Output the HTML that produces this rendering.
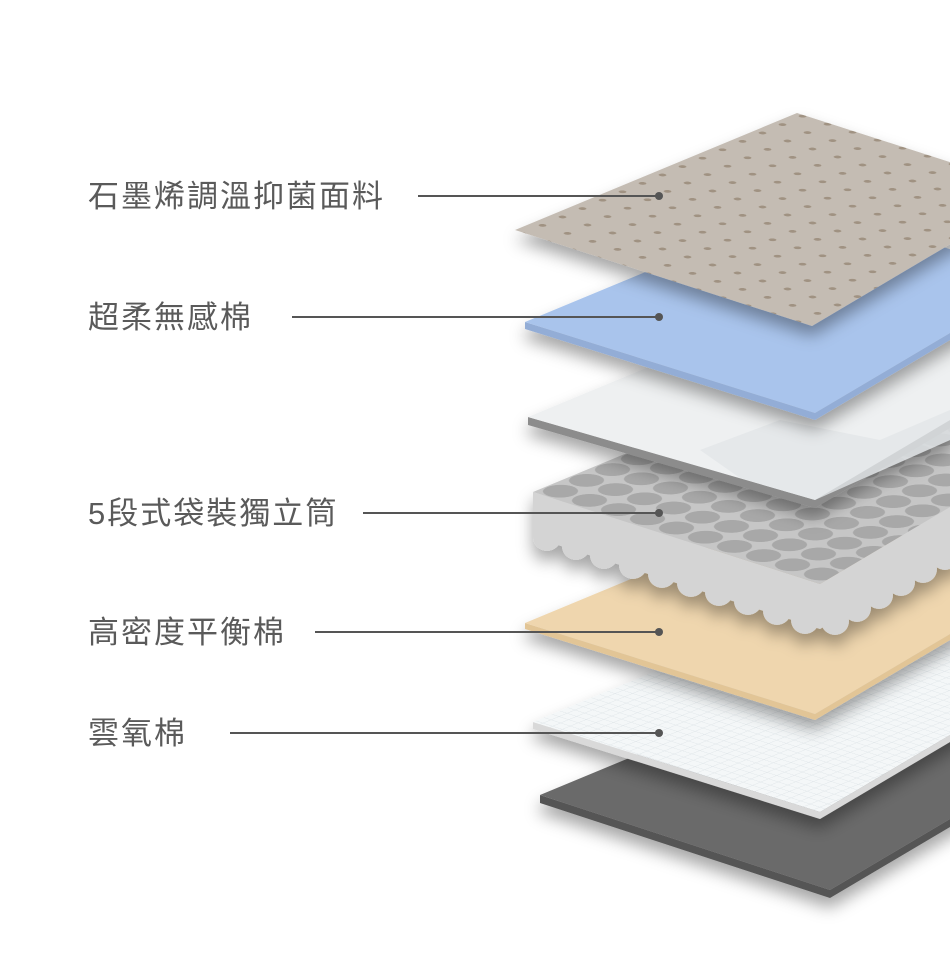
<!DOCTYPE html>
<html><head><meta charset="utf-8"><style>
html,body{margin:0;padding:0;background:#fff;}
svg{display:block;}
text{font-family:"Liberation Sans","Noto Sans CJK TC",sans-serif;font-size:31px;fill:#5a5a5a;letter-spacing:2px;}
</style></head><body>
<svg width="950" height="958" viewBox="0 0 950 958" xmlns="http://www.w3.org/2000/svg">
<defs>
<filter id="sh" x="-20%" y="-20%" width="140%" height="160%"><feDropShadow dx="0" dy="10" stdDeviation="8" flood-color="#000" flood-opacity="0.35"/></filter>
<pattern id="dots" patternUnits="userSpaceOnUse" width="20" height="20" patternTransform="matrix(1.25,0.4,1.0,-0.42,0,0)">
<rect width="20" height="20" fill="#c4bcb3"/><circle cx="10" cy="10" r="2.4" fill="#a09282"/></pattern>
<pattern id="coils" patternUnits="userSpaceOnUse" width="20" height="20" patternTransform="matrix(1.45,0.46,1.3,-0.54,533,492)">
<rect width="20" height="20" fill="#c6c6c6"/><circle cx="10" cy="10" r="9" fill="#a8a8a8"/></pattern>
<pattern id="grid" patternUnits="userSpaceOnUse" width="8" height="8" patternTransform="matrix(1.2,0.39,1.0,-0.41,0,0)">
<rect width="8" height="8" fill="#f4f7f8"/><path d="M0 0H8M0 0V8" stroke="#dfe5e8" stroke-width="1"/></pattern>
</defs>

<g filter="url(#sh)">
<polygon points="540,795 540,803 830,898 1058,763 1058,755 830,890" fill="#555"/>
<polygon points="540,795 822,678 1058,755 830,890" fill="#6b6a6a"/>
</g>
<g filter="url(#sh)">
<polygon points="533,722 533,729 820,819 1048,684 1048,677 820,812" fill="#d9d9d9"/>
<polygon points="533,722 815,605 1048,677 820,812" fill="url(#grid)"/>
</g>
<g filter="url(#sh)">
<polygon points="525,623 525,629 815,720 1043,585 1043,579 815,714" fill="#e2c596"/>
<polygon points="525,623 807,506 1043,579 815,714" fill="#efd6ae"/>
</g>
<g filter="url(#sh)">
<polygon points="533,492 533,537 820,629 1048,494 1048,449 820,584" fill="#d4d4d4"/>
<g fill="#d4d4d4">
<circle cx="547" cy="537" r="14"/><circle cx="576" cy="546" r="14"/><circle cx="604" cy="555" r="14"/><circle cx="633" cy="565" r="14"/><circle cx="662" cy="574" r="14"/><circle cx="691" cy="583" r="14"/><circle cx="719" cy="592" r="14"/><circle cx="748" cy="601" r="14"/><circle cx="777" cy="611" r="14"/><circle cx="805" cy="620" r="14"/>
<circle cx="835" cy="621" r="14"/><circle cx="857" cy="608" r="14"/><circle cx="879" cy="595" r="14"/><circle cx="901" cy="582" r="14"/><circle cx="923" cy="569" r="14"/><circle cx="945" cy="556" r="14"/>
</g>
<polygon points="533,492 815,375 1048,449 820,584" fill="url(#coils)"/>
</g>
<g filter="url(#sh)">
<polygon points="528,417 528,425 815,508 1043,373 1043,365 815,500" fill="#8c8c8c"/>
<polygon points="528,417 810,300 1043,365 815,500" fill="#eef0f1"/>
<polygon points="700,450 780,420 880,440 950,410 950,440 815,500 740,478" fill="#e2e6e9" opacity="0.8"/>
</g>
<g filter="url(#sh)">
<polygon points="525,322 525,329 815,420 1043,285 1043,278 815,413" fill="#93add6"/>
<polygon points="525,322 807,205 1043,278 815,413" fill="#a9c4ec"/>
</g>
<g filter="url(#sh)">
<polygon points="515,230 797,113 1040,191 812,326" fill="url(#dots)"/>
</g>

<g stroke="#555" stroke-width="2">
<line x1="418" y1="196" x2="659" y2="196"/>
<line x1="292" y1="317" x2="659" y2="317"/>
<line x1="363" y1="513" x2="659" y2="513"/>
<line x1="315" y1="632" x2="659" y2="632"/>
<line x1="230" y1="733" x2="659" y2="733"/>
</g>
<g fill="#555">
<circle cx="659" cy="196" r="4"/><circle cx="659" cy="317" r="4"/><circle cx="659" cy="513" r="4"/><circle cx="659" cy="632" r="4"/><circle cx="659" cy="733" r="4"/>
</g>
<text x="88" y="207">石墨烯調溫抑菌面料</text>
<text x="88" y="328">超柔無感棉</text>
<text x="88" y="524">5段式袋裝獨立筒</text>
<text x="88" y="643">高密度平衡棉</text>
<text x="88" y="744">雲氧棉</text>
</svg>
</body></html>
